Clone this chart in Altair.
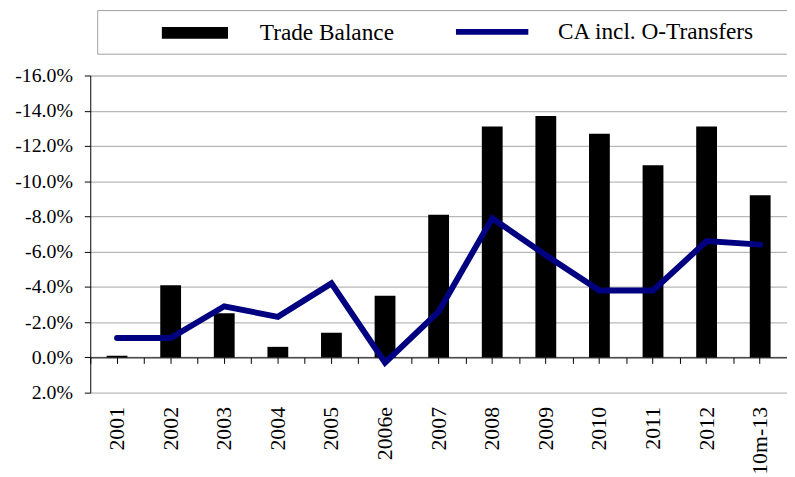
import altair as alt
import pandas as pd

categories = ["2001", "2002", "2003", "2004", "2005", "2006e", "2007",
              "2008", "2009", "2010", "2011", "2012", "10m-13"]
trade_balance = [-0.1, -4.1, -2.5, -0.6, -1.4, -3.5, -8.1,
                 -13.1, -13.7, -12.7, -10.9, -13.1, -9.2]
ca_incl_transfers = [-1.1, -1.1, -2.9, -2.3, -4.2, 0.3, -2.6,
                     -7.9, -5.8, -3.8, -3.8, -6.6, -6.4]
series_names = ["Trade Balance", "CA incl. O-Transfers"]
series_colors = ["#000000", "#000080"]
y_ticks = [-16, -14, -12, -10, -8, -6, -4, -2, 0, 2]
y_domain = [-16, 2]

df_bar = pd.DataFrame({"period": categories, "value": trade_balance, "series": series_names[0]})
df_line = pd.DataFrame({"period": categories, "value": ca_incl_transfers, "series": series_names[1]})

W, H = 703, 320
zero_offset = -H * (y_domain[1] - 0) / (y_domain[1] - y_domain[0])

SERIF = "Liberation Serif"
BLANK = "\u2800"  # invisible spacer that widens the legend frame

x_scale = alt.Scale(domain=categories, paddingInner=0, paddingOuter=0)
y_scale = alt.Scale(domain=y_domain, reverse=True, nice=False)

y_axis = alt.Axis(
    values=y_ticks, title=None,
    labelExpr="(datum.value < 0 ? '-' : '') + format(abs(datum.value), '.1f') + '%'",
    labelFont=SERIF, labelFontSize=20, labelColor="black", labelPadding=12,
    domain=True, domainColor="black", domainWidth=1,
    ticks=True, tickColor="black", tickSize=6,
    grid=True, gridColor="#b8b8b8", gridWidth=1.3,
)

bar_legend = alt.Legend(
    title=None, orient="none", legendX=72, legendY=-55, direction="horizontal",
    labelFont=SERIF, labelFontSize=23.5, labelColor="black", labelLimit=800,
    labelOffset=32, symbolType="M-1,-0.18H1V0.18H-1Z", symbolSize=4489,
    symbolStrokeWidth=0, clipHeight=24, padding=0,
)
line_legend = alt.Legend(
    title=BLANK, titleOrient="right", titlePadding=6, titleFont=SERIF, titleFontSize=23.5,
    orient="none", legendX=7, legendY=-66, direction="horizontal",
    labelFont=SERIF, labelFontSize=23.5, labelColor="black", labelLimit=800,
    labelOffset=27, symbolType="stroke", symbolSize=5329, symbolStrokeWidth=6,
    symbolOffset=349, clipHeight=24, padding=10, strokeColor="#a0a0a0",
)

bars = alt.Chart(df_bar).mark_bar(size=21).encode(
    x=alt.X("period:N", scale=x_scale, sort=categories, title=None,
            axis=alt.Axis(orient="bottom", offset=zero_offset, domain=True, domainColor="black",
                          domainWidth=1, ticks=True, tickColor="black", tickSize=6,
                          labelAngle=-90, labelFont=SERIF, labelFontSize=22, labelColor="black",
                          labelPadding=43.5, grid=False)),
    y=alt.Y("value:Q", scale=y_scale, axis=y_axis),
    y2=alt.datum(0),
    fill=alt.Fill("series:N", scale=alt.Scale(domain=[series_names[0]], range=[series_colors[0]]),
                  legend=bar_legend),
)

line = alt.Chart(df_line).mark_line(strokeWidth=6, strokeCap="round", strokeJoin="miter").encode(
    x=alt.X("period:N", scale=x_scale, sort=categories, title=None,
            axis=alt.Axis(orient="bottom", offset=zero_offset, domain=False, labels=False,
                          ticks=True, tickBand="extent", tickColor="black", tickSize=6, grid=False)),
    y=alt.Y("value:Q", scale=y_scale, axis=y_axis),
    stroke=alt.Stroke("series:N", scale=alt.Scale(domain=[series_names[1]], range=[series_colors[1]]),
                      legend=line_legend),
)

chart = alt.layer(bars, line).resolve_axis(x="independent").properties(
    width=W, height=H,
    autosize=alt.AutoSizeParams(type="none"),
    padding={"left": 83, "top": 66, "right": 0, "bottom": 82},
).configure_view(stroke=None)

chart.save("out.html", embed_options={"renderer": "svg", "actions": False})
